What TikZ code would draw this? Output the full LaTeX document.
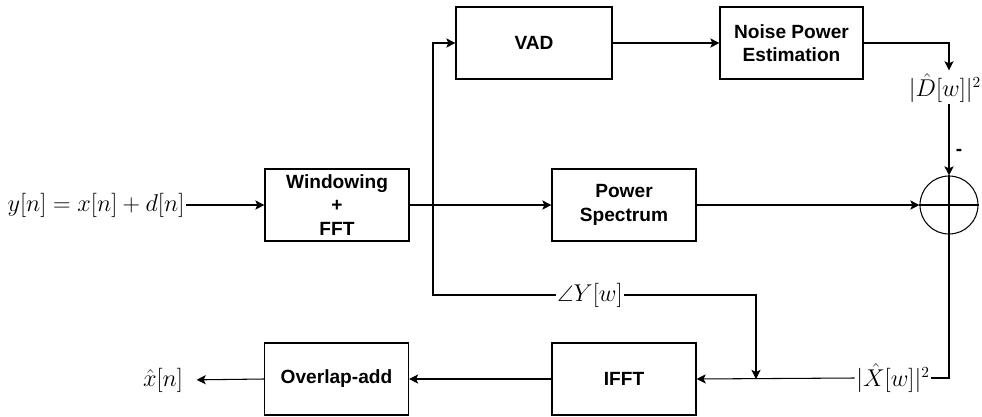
\documentclass[tikz,border=0pt]{standalone}
\usepackage{amsmath,amssymb}
\usepackage{fontspec}
\setsansfont{Liberation Sans}
\usetikzlibrary{arrows.meta,positioning,calc}

\tikzset{
  blk/.style={draw, line width=0.75pt, minimum width=3.6cm, minimum height=1.8cm,
    align=center, font=\sffamily\bfseries\fontsize{13.6}{16.5}\selectfont},
  sumnode/.style={draw, circle, line width=0.75pt, minimum size=1.45cm, inner sep=0pt},
  sig/.style={inner sep=1pt, font=\fontsize{16}{19}\selectfont},
  link/.style={line width=0.75pt, -{Stealth[length=6.5pt,width=6.5pt,inset=1.5pt]}},
  wire/.style={line width=0.75pt}
}

\begin{document}
\begin{tikzpicture}[x=0.025cm, y=-0.025cm]
\useasboundingbox (0,0) rectangle (982,416);
% Blocks
\node[blk] (win) at (337,205) {Windowing\\+\\FFT};
\node[blk, minimum width=3.9cm] (vad) at (534,43) {VAD};
\node[blk, minimum width=3.575cm] (noise) at (791.5,43) {Noise Power\\Estimation};
\node[blk] (pow) at (624,205) {Power\\Spectrum};
\node[blk] (ola) at (336.5,379) {Overlap-add};
\node[blk] (ifft) at (624,379) {IFFT};
\node[sumnode] (sum) at (949,205) {};
\draw[wire] (sum.north) -- (sum.south) (sum.west) -- (sum.east);
% Signal labels
\node[sig] (yin) at (96,205) {$y[n] = x[n] + d[n]$};
\node[sig] (xout) at (163,380) {$\hat{x}[n]$};
\node[sig] (dhat) at (945,88) {$|\hat{D}[w]|^2$};
\node[sig] (xhat) at (893,378) {$|\hat{X}[w]|^2$};
\node[sig] (ang) at (590,295) {$\angle Y[w]$};
\node[font=\sffamily\bfseries\fontsize{13.6}{16.5}\selectfont] (minus) at (959,152) {-};
% Junctions
\coordinate (split) at (433,205);
\coordinate (mix) at (756,379);
% Connectors
\draw[link] (yin.east) -- (win.west);
\draw[wire] (win.east) -- (split);
\draw[link] (split) -- (pow.west);
\draw[link] (split) |- (vad.west);
\draw[wire] (split) |- (ang.west);
\draw[link] (ang.east) -| (mix);
\draw[link] (vad.east) -- (noise.west);
\draw[link, shorten >=1pt] (noise.east) -| (dhat.north -| sum.north);
\draw[link] (dhat.south -| sum.north) -- (sum.north);
\draw[link] (pow.east) -- (sum.west);
\draw[wire] (sum.south) |- (xhat.east);
\draw[link] (xhat.west) -- (ifft.east);
\draw[link] (ifft.west) -- (ola.east);
\draw[link, shorten >=0.3cm] (ola.west) -- (xout.east);
\end{tikzpicture}
\end{document}
